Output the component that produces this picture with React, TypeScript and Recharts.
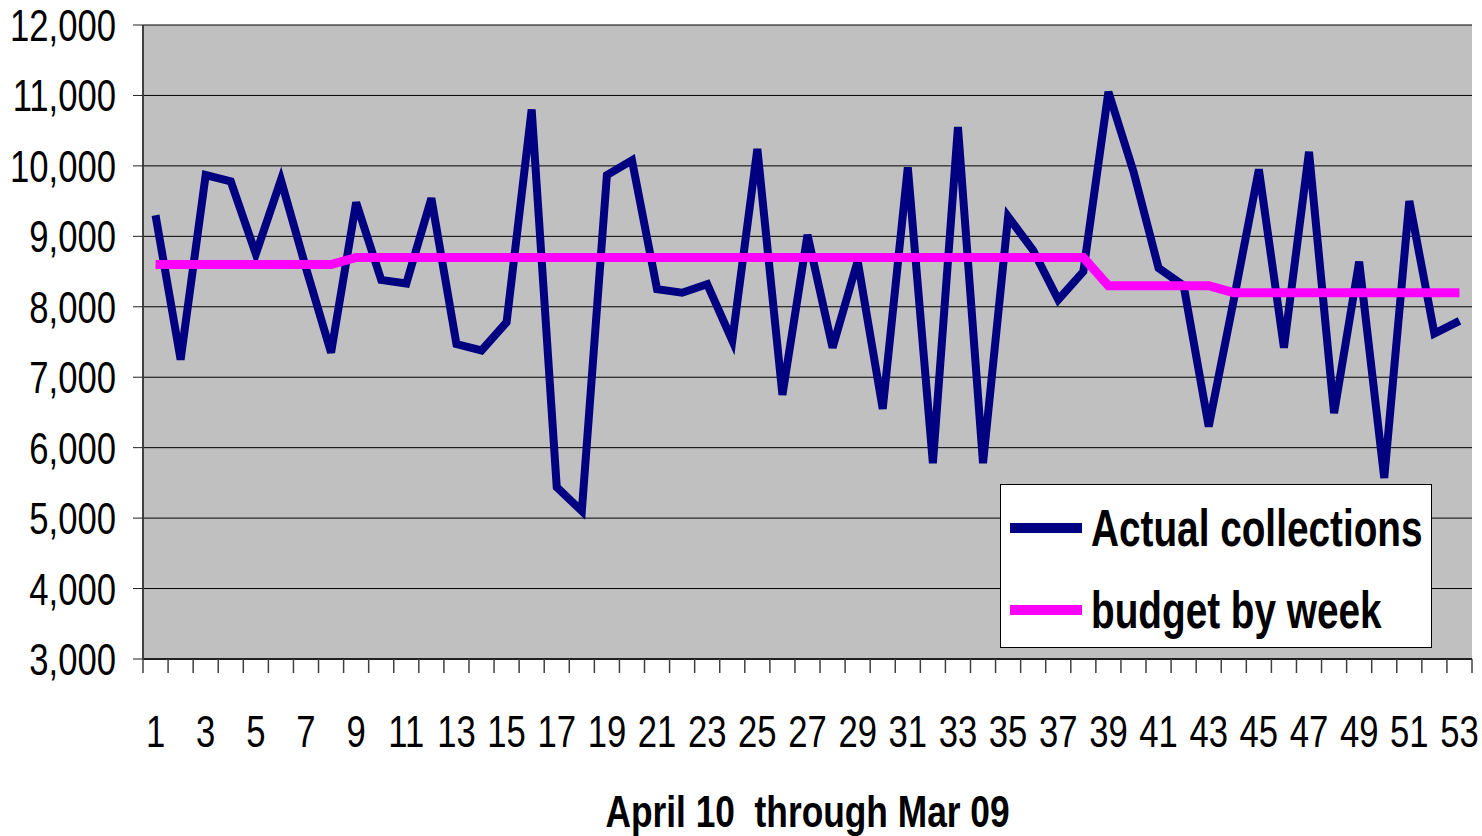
import React from 'react';
import { LineChart, Line, XAxis, YAxis, CartesianGrid, Label } from 'recharts';

const weeks = [1,2,3,4,5,6,7,8,9,10,11,12,13,14,15,16,17,18,19,20,21,22,23,24,25,26,27,28,29,30,31,32,33,34,35,36,37,38,39,40,41,42,43,44,45,46,47,48,49,50,51,52,53];

const actualCollections = [9300, 7250, 9870, 9780, 8750, 9800, 8550, 7350, 9480, 8380, 8330, 9540, 7470, 7380, 7780, 10800, 5440, 5100, 9870, 10080, 8250, 8200, 8320, 7520, 10240, 6750, 9020, 7420, 8650, 6550, 9980, 5780, 10550, 5780, 9280, 8800, 8100, 8500, 11050, 9920, 8550, 8300, 6300, 8100, 9950, 7420, 10200, 6490, 8640, 5570, 9500, 7620, 7800];

const budgetByWeek = [8600, 8600, 8600, 8600, 8600, 8600, 8600, 8600, 8700, 8700, 8700, 8700, 8700, 8700, 8700, 8700, 8700, 8700, 8700, 8700, 8700, 8700, 8700, 8700, 8700, 8700, 8700, 8700, 8700, 8700, 8700, 8700, 8700, 8700, 8700, 8700, 8700, 8700, 8300, 8300, 8300, 8300, 8300, 8200, 8200, 8200, 8200, 8200, 8200, 8200, 8200, 8200, 8200];

const xTickLabels = [1,3,5,7,9,11,13,15,17,19,21,23,25,27,29,31,33,35,37,39,41,43,45,47,49,51,53];
const yTicks = [3000,4000,5000,6000,7000,8000,9000,10000,11000,12000];
const xBoundaryTicks = [0, ...weeks].map((w) => w + 0.5);
const xAllTicks = [...xBoundaryTicks, ...xTickLabels].sort((a, b) => a - b);
const seriesNames = ['Actual collections', 'budget by week'];
const seriesColors = ['#000080', '#FF00FF'];
const axisTitle = 'April 10  through Mar 09';

const data = weeks.map((w, i) => ({ week: w, actual: actualCollections[i], budget: budgetByWeek[i] }));

const FONT = "'Liberation Sans', Arial, sans-serif";
const NARROW = 0.77;
const X_TICK_MARGIN = 56;
const X_MARK_LEN = 14;

const YTick = (props: any) => {
  const { x, y, payload } = props;
  return (
    <g transform={`translate(${x},${y}) scale(${NARROW},1)`}>
      <text x={0} y={0} dy="0.355em" textAnchor="end" fontFamily={FONT} fontSize={45} fill="#000">
        {Number(payload.value).toLocaleString('en-US')}
      </text>
    </g>
  );
};

const XTick = (props: any) => {
  const { x, y, payload } = props;
  const v = Number(payload.value);
  if (!Number.isInteger(v)) {
    const axisY = y - X_TICK_MARGIN;
    return <line x1={x} x2={x} y1={axisY} y2={axisY + X_MARK_LEN} stroke="#404040" strokeWidth={1.5} />;
  }
  return (
    <g transform={`translate(${x},${y}) scale(${NARROW},1)`}>
      <text x={0} y={0} dy="0.71em" textAnchor="middle" fontFamily={FONT} fontSize={45} fill="#000">
        {v}
      </text>
    </g>
  );
};

const TitleLabel = (props: any) => {
  const vb = props.viewBox || {};
  const cx = vb.x + vb.width / 2;
  return (
    <g transform={`translate(${cx},827) scale(0.785,1)`}>
      <text x={0} y={0} textAnchor="middle" fontFamily={FONT} fontWeight="bold" fontSize={45} fill="#000" style={{ whiteSpace: 'pre' }}>
        {axisTitle}
      </text>
    </g>
  );
};

const LegendBox = () => (
  <div style={{ position: 'absolute', left: 1000, top: 484, width: 432, height: 164, background: '#fff', border: '1px solid #000', boxSizing: 'border-box', fontFamily: FONT, fontWeight: 'bold', fontSize: 52, color: '#000' }}>
    {seriesNames.map((name, i) => (
      <div key={name} style={{ position: 'absolute', left: 9, top: (i === 0 ? 528 : 610) - 484 - 31, height: 60, display: 'flex', alignItems: 'center', whiteSpace: 'nowrap' }}>
        <div style={{ width: 72, height: 10, background: seriesColors[i], marginRight: 9 }} />
        <span style={{ display: 'inline-block', lineHeight: 1, transform: 'scaleX(0.745)', transformOrigin: 'left center' }}>{name}</span>
      </div>
    ))}
  </div>
);

export default function App() {
  return (
    <div style={{ position: 'absolute', left: 0, top: 0, width: 1482, height: 836, background: '#fff' }}>
      <LineChart width={1482} height={836} data={data} margin={{ top: 25, right: 10, left: 0, bottom: 0 }}>
        <CartesianGrid horizontal vertical={false} stroke="#000" strokeOpacity={1} fill="#C0C0C0" fillOpacity={1} />
        <XAxis
          dataKey="week"
          type="number"
          domain={[0.5, 53.5]}
          ticks={xAllTicks}
          interval={0}
          height={177}
          tickLine={false}
          axisLine={{ stroke: '#202020', strokeWidth: 2 }}
          tickSize={0}
          tickMargin={X_TICK_MARGIN}
          tick={<XTick />}
        >
          <Label content={<TitleLabel />} />
        </XAxis>
        <YAxis
          domain={[3000, 12000]}
          ticks={yTicks}
          interval={0}
          width={143}
          tickSize={10}
          tickMargin={17}
          tick={<YTick />}
          tickLine={{ stroke: '#202020' }}
          axisLine={{ stroke: '#404040', strokeWidth: 2 }}
        />
        <YAxis yAxisId="right" orientation="right" width={0} tick={false} tickLine={false} axisLine={{ stroke: '#808080', strokeWidth: 2 }} domain={[3000, 12000]} />
        <Line type="linear" dataKey="actual" name={seriesNames[0]} stroke={seriesColors[0]} strokeWidth={8} dot={false} isAnimationActive={false} strokeLinejoin="miter" />
        <Line type="linear" dataKey="budget" name={seriesNames[1]} stroke={seriesColors[1]} strokeWidth={9} dot={false} isAnimationActive={false} />
      </LineChart>
      <LegendBox />
    </div>
  );
}
